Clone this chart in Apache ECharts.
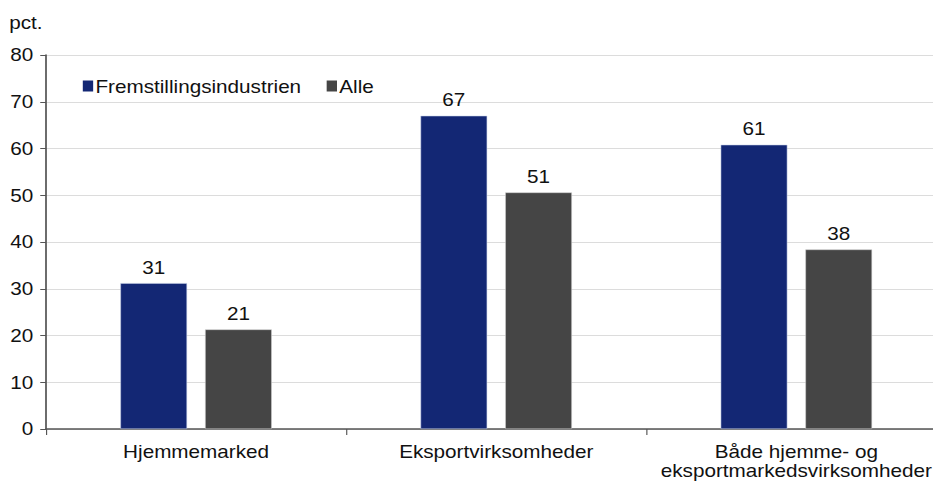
<!DOCTYPE html>
<html><head><meta charset="utf-8">
<script src="https://cdn.jsdelivr.net/npm/echarts@6/dist/echarts.min.js"></script>
<style>
html,body{margin:0;padding:0;background:#fff;overflow:hidden;width:933px;height:486px}
#c{width:823px;height:486px;transform:scaleX(1.15);transform-origin:0 0}
</style>
</head><body><div id="c"></div>
<script>
const categories = ['Hjemmemarked', 'Eksportvirksomheder', 'Både hjemme- og\neksportmarkedsvirksomheder'];
const seriesNames = ['Fremstillingsindustrien', 'Alle'];
const fremstilling = [31.2, 67.0, 60.8];
const alle = [21.3, 50.6, 38.4];
const yTicks = [0, 80, 10];

const chart = echarts.init(document.getElementById('c'), null, {renderer: 'svg'});
const font = 'Liberation Sans, Arial, sans-serif';
const txt = '#111';
chart.setOption({
  animation: false,
  textStyle: {fontFamily: font},
  grid: {left: 40, right: 0, top: 55, bottom: 57, containLabel: false},
  legend: {
    left: 67, top: 72, itemWidth: 9, itemHeight: 11, itemGap: 22,
    icon: 'rect',
    itemStyle: {borderWidth: 0},
    textStyle: {fontSize: 18, color: txt, fontFamily: font, padding: [0, 0, 0, -3]},
    data: seriesNames
  },
  xAxis: {
    type: 'category', data: categories,
    axisLine: {lineStyle: {color: '#555', width: 1.5}},
    axisTick: {show: true, interval: 0, length: 6, lineStyle: {color: '#555'}},
    axisLabel: {interval: 0, hideOverlap: false, fontSize: 18, color: txt, margin: 13, lineHeight: 19, fontFamily: font}
  },
  yAxis: {
    type: 'value', min: yTicks[0], max: yTicks[1], interval: yTicks[2],
    name: 'pct.', nameLocation: 'end', nameGap: 24,
    nameTextStyle: {fontSize: 18, color: txt, align: 'left', padding: [0, 0, 0, -32], fontFamily: font},
    axisLine: {show: true, lineStyle: {color: '#555', width: 1.5}},
    axisTick: {show: true, length: 5, lineStyle: {color: '#555'}},
    axisLabel: {fontSize: 18, color: txt, margin: 11, fontFamily: font},
    splitLine: {lineStyle: {color: '#dcdcdc'}}
  },
  series: [
    {name: seriesNames[0], type: 'bar', data: fremstilling, barWidth: 58, barGap: '27%',
     itemStyle: {color: '#132774', borderColor: '#c9d2e8', borderWidth: 0.5},
     label: {show: true, position: 'top', fontSize: 18, color: txt, distance: 7, formatter: p => Math.round(p.value)}},
    {name: seriesNames[1], type: 'bar', data: alle, barWidth: 58,
     itemStyle: {color: '#454545', borderColor: '#d0d0d0', borderWidth: 0.5},
     label: {show: true, position: 'top', fontSize: 18, color: txt, distance: 7, formatter: p => Math.round(p.value)}}
  ]
});
</script></body></html>
